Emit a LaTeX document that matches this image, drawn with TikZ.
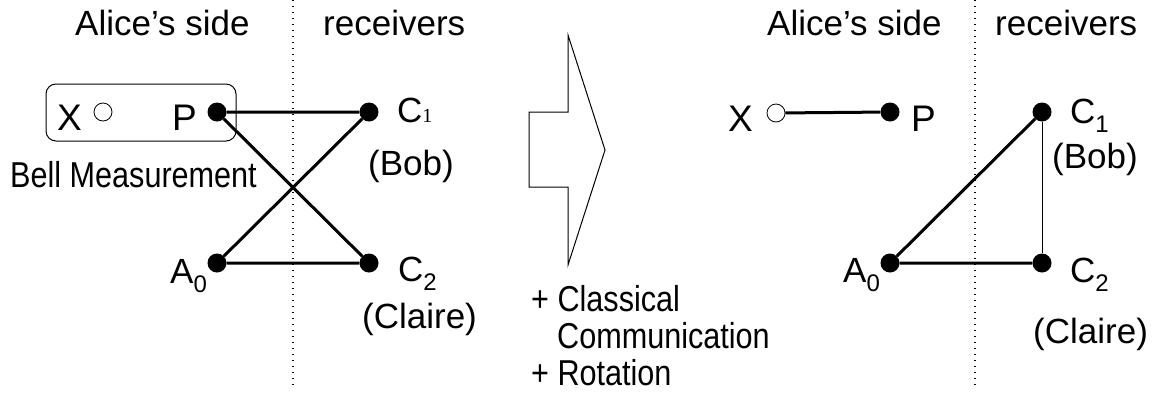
\documentclass[tikz,border=0pt]{standalone}
\usepackage{fontspec}
\setmainfont{Liberation Sans}
\newfontfamily\narrowsf[FakeStretch=0.85]{Liberation Sans}
\newfontfamily\serifnum{Liberation Serif}
\newcommand{\lowsub}[1]{\raisebox{-9pt}{\fontsize{24}{24}\selectfont #1}}
\begin{document}
\begin{tikzpicture}[x=1pt,y=-1pt,
    dot/.style={circle,fill,inner sep=0pt,minimum size=19pt},
    hole/.style={circle,draw,fill=white,inner sep=0pt,minimum size=18pt,line width=0.8pt},
    lbl/.style={anchor=base west,inner sep=0pt,font=\fontsize{35}{42}\selectfont},
    note/.style={anchor=base west,inner sep=0pt,font=\narrowsf\fontsize{36}{42}\selectfont},
    bond/.style={line width=3pt},
    divider/.style={dash pattern=on 1.2pt off 4.8pt,line width=1.2pt}]
    \useasboundingbox (0,0) rectangle (1159,392);
    % left: before the measurement
    \coordinate (ltop) at (293,0);
    \coordinate (lbot) at (293,388);
    \draw[divider] (ltop) -- (lbot);
    \node[lbl] (lalice) at (75,35) {Alice’s side};
    \node[lbl] (lrecv) at (323,35) {receivers};
    \draw[rounded corners=10pt,line width=1pt] (46,84) rectangle (236,141);
    \node[hole] (lx) at (103,112) {};
    \node[dot] (lp) at (217,112) {};
    \node[dot] (lc1) at (369,112) {};
    \node[dot] (la0) at (217,263) {};
    \node[dot] (lc2) at (369,263) {};
    \draw[bond] (lp) -- (lc1) (lp) -- (lc2) (la0) -- (lc1) (la0) -- (lc2);
    \node[lbl,font=\fontsize{37}{42}\selectfont] (lxl) at (57,130) {X};
    \node[lbl,font=\fontsize{37}{42}\selectfont] (lpl) at (172,130) {P};
    \node[note] (bell) at (10,187) {Bell Measurement};
    \node[lbl] (lc1l) at (397,122) {C{\serifnum\fontsize{20}{20}\selectfont 1}};
    \node[lbl] (lbob) at (368,175) {(Bob)};
    \node[lbl] (la0l) at (170,283) {A\lowsub{0}};
    \node[lbl] (lc2l) at (398,281) {C\lowsub{2}};
    \node[lbl] (lclaire) at (362,328) {(Claire)};
    % the big arrow
    \draw[line width=1pt,line join=miter] (529,112) -- (568,112) -- (568,35) -- (605,150)
        -- (568,265) -- (568,187) -- (529,187) -- cycle;
    \node[note] (plus1) at (531,311) {+ Classical};
    \node[note] (comm) at (557,348) {Communication};
    \node[note] (plus2) at (531,385) {+ Rotation};
    % right: after it
    \coordinate (rtop) at (975,0);
    \coordinate (rbot) at (975,388);
    \draw[divider] (rtop) -- (rbot);
    \node[lbl] (ralice) at (767,35) {Alice’s side};
    \node[lbl] (rrecv) at (995,35) {receivers};
    \node[hole] (rx) at (776,113) {};
    \node[dot] (rp) at (890,112) {};
    \node[dot] (rc1) at (1042,112) {};
    \node[dot] (ra0) at (890,263) {};
    \node[dot] (rc2) at (1042,263) {};
    \draw[bond] (rx) -- (rp) (ra0) -- (rc1) (ra0) -- (rc2);
    \draw[line width=1pt] (rc1) -- (rc2);
    \node[lbl,font=\fontsize{37}{42}\selectfont] (rxl) at (728,131) {X};
    \node[lbl,font=\fontsize{37}{42}\selectfont] (rpl) at (911,131) {P};
    \node[lbl] (rc1l) at (1070,123) {C\lowsub{1}};
    \node[lbl] (rbob) at (1052,168) {(Bob)};
    \node[lbl] (ra0l) at (843,282) {A\lowsub{0}};
    \node[lbl] (rc2l) at (1070,282) {C\lowsub{2}};
    \node[lbl] (rclaire) at (1033,343) {(Claire)};
\end{tikzpicture}
\end{document}
